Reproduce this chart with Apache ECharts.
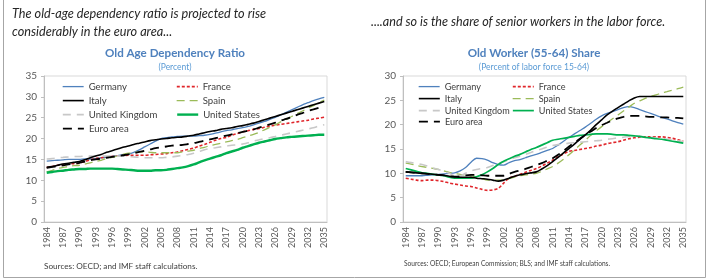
<!DOCTYPE html>
<html>
<head>
<meta charset="utf-8">
<script src="https://cdn.jsdelivr.net/npm/echarts@6/dist/echarts.min.js"></script>
<style>
html, body { margin: 0; padding: 0; background: #fff; }
#main { width: 708px; height: 279px; }
</style>
</head>
<body>
<div id="main"></div>
<script>
// categories: 1984 ... 2035
var years = [];
for (var y = 1984; y <= 2035; y++) years.push(String(y));

// left panel: old age dependency ratio (percent)
var depGermany = [14.6, 14.7, 14.8, 14.9, 15.0, 15.0, 15.0, 15.1, 15.1, 15.2,
    15.4, 15.5, 15.7, 15.9, 16.1, 16.3, 16.7, 17.3, 18.0, 18.7,
    19.4, 20.0, 20.2, 20.4, 20.5, 20.6, 20.6, 20.6, 20.7, 20.8,
    21.0, 21.3, 21.6, 21.9, 22.1, 22.4, 22.6, 22.9, 23.3, 23.7,
    24.1, 24.6, 25.1, 25.7, 26.3, 26.9, 27.5, 28.1, 28.6, 29.1,
    29.5, 29.9]
var depFrance = [13.1, 13.3, 13.6, 13.8, 13.9, 14.0, 14.1, 14.5, 14.9, 15.2,
    15.4, 15.6, 15.7, 15.8, 15.9, 16.0, 16.0, 16.0, 16.0, 16.1,
    16.2, 16.3, 16.4, 16.6, 16.8, 17.1, 17.4, 17.7, 18.2, 18.6,
    19.1, 19.6, 20.0, 20.3, 20.8, 21.2, 21.6, 21.9, 22.2, 22.4,
    22.7, 23.0, 23.2, 23.4, 23.6, 23.8, 24.0, 24.2, 24.4, 24.7,
    24.9, 25.1]
var depItaly = [13.1, 13.3, 13.6, 13.9, 14.1, 14.3, 14.5, 14.9, 15.4, 15.8,
    16.2, 16.7, 17.1, 17.5, 17.9, 18.2, 18.6, 18.9, 19.2, 19.5,
    19.7, 19.9, 20.0, 20.2, 20.3, 20.4, 20.6, 20.8, 21.1, 21.4,
    21.7, 21.9, 22.2, 22.4, 22.6, 22.9, 23.1, 23.4, 23.7, 24.1,
    24.5, 24.9, 25.3, 25.7, 26.1, 26.5, 26.9, 27.3, 27.7, 28.1,
    28.5, 28.9]
var depSpain = [12.0, 12.4, 12.8, 13.1, 13.3, 13.5, 13.6, 13.9, 14.2, 14.5,
    14.8, 15.2, 15.5, 15.8, 16.2, 16.5, 16.7, 16.8, 16.8, 16.7,
    16.6, 16.6, 16.6, 16.6, 16.6, 16.8, 17.0, 17.2, 17.6, 17.9,
    18.3, 18.6, 18.9, 19.2, 19.5, 19.8, 20.2, 20.6, 21.0, 21.5,
    22.1, 22.7, 23.3, 24.0, 24.6, 25.3, 26.0, 26.6, 27.3, 27.9,
    28.6, 29.2]
var depUK = [15.1, 15.2, 15.4, 15.5, 15.6, 15.7, 15.7, 15.8, 15.8, 15.8,
    15.8, 15.8, 15.8, 15.8, 15.8, 15.7, 15.6, 15.5, 15.4, 15.4,
    15.4, 15.4, 15.5, 15.6, 15.8, 16.0, 16.2, 16.5, 16.9, 17.3,
    17.6, 17.8, 18.0, 18.2, 18.4, 18.5, 18.7, 19.0, 19.4, 19.7,
    20.0, 20.2, 20.5, 20.8, 21.1, 21.4, 21.7, 22.0, 22.3, 22.6,
    23.0, 23.3]
var depUS = [11.8, 12.0, 12.2, 12.3, 12.5, 12.6, 12.7, 12.7, 12.8, 12.8,
    12.8, 12.8, 12.8, 12.7, 12.6, 12.5, 12.4, 12.3, 12.3, 12.3,
    12.4, 12.4, 12.5, 12.7, 12.9, 13.1, 13.4, 13.8, 14.3, 14.8,
    15.2, 15.6, 16.0, 16.5, 16.9, 17.3, 17.8, 18.2, 18.6, 19.0,
    19.3, 19.6, 19.9, 20.1, 20.3, 20.4, 20.5, 20.6, 20.7, 20.8,
    20.9, 20.9]
var depEuro = [13.0, 13.2, 13.4, 13.6, 13.8, 14.0, 14.2, 14.5, 14.8, 15.0,
    15.2, 15.4, 15.6, 15.8, 16.0, 16.2, 16.5, 16.8, 17.1, 17.4,
    17.7, 17.9, 18.1, 18.3, 18.4, 18.5, 18.7, 18.9, 19.2, 19.5,
    19.8, 20.1, 20.4, 20.7, 21.0, 21.3, 21.6, 21.9, 22.2, 22.6,
    23.0, 23.4, 23.8, 24.3, 24.7, 25.2, 25.7, 26.1, 26.6, 27.0,
    27.4, 27.8]

// right panel: old worker (55-64) share, percent of labor force 15-64
var wrkGermany = [9.5, 9.5, 9.5, 9.5, 9.6, 9.7, 9.8, 9.9, 10.0, 10.1,
    10.5, 11.2, 12.3, 13.1, 13.0, 12.7, 12.2, 11.8, 11.7, 12.2,
    12.6, 12.8, 13.2, 13.6, 13.9, 14.3, 14.7, 15.1, 15.8, 16.6,
    17.4, 18.1, 18.8, 19.5, 20.3, 21.1, 21.8, 22.3, 22.7, 23.1,
    23.5, 23.7, 23.5, 23.1, 22.7, 22.3, 21.9, 21.5, 21.2, 20.8,
    20.4, 20.1]
var wrkFrance = [9.0, 8.8, 8.6, 8.5, 8.6, 8.6, 8.5, 8.3, 8.0, 7.8,
    7.6, 7.4, 7.3, 7.0, 6.7, 6.5, 6.6, 6.9, 8.0, 9.0,
    9.4, 9.8, 10.2, 10.6, 11.0, 11.5, 12.1, 12.7, 13.4, 14.0,
    14.5, 14.7, 14.9, 15.1, 15.3, 15.6, 15.8, 16.1, 16.3, 16.5,
    16.8, 17.1, 17.3, 17.4, 17.5, 17.5, 17.5, 17.5, 17.4, 17.2,
    16.9, 16.6]
var wrkItaly = [10.3, 10.2, 10.1, 10.0, 9.9, 9.8, 9.7, 9.6, 9.4, 9.3,
    9.2, 9.2, 9.2, 9.0, 8.9, 8.8, 8.6, 8.4, 8.6, 9.0,
    9.4, 9.7, 9.9, 10.1, 10.3, 10.9, 11.6, 12.4, 13.3, 14.2,
    15.1, 16.0, 17.0, 17.9, 18.9, 20.0, 21.0, 22.0, 22.8, 23.5,
    24.2, 24.9, 25.5, 25.8, 25.8, 25.8, 25.8, 25.8, 25.8, 25.8,
    25.8, 25.8]
var wrkSpain = [12.1, 11.9, 11.6, 11.4, 11.2, 11.0, 10.8, 10.5, 10.2, 10.0,
    9.8, 9.6, 9.5, 9.2, 8.9, 8.6, 8.6, 8.6, 8.6, 8.9,
    9.2, 9.5, 9.7, 9.8, 10.0, 10.4, 10.9, 11.4, 12.1, 12.9,
    13.8, 14.8, 15.8, 16.8, 17.8, 18.7, 19.6, 20.4, 21.2, 22.0,
    22.8, 23.6, 24.4, 24.9, 25.4, 25.8, 26.1, 26.5, 26.8, 27.1,
    27.4, 27.7]
var wrkUK = [12.4, 12.2, 12.0, 11.8, 11.5, 11.1, 10.8, 10.4, 10.0, 9.5,
    9.5, 10.0, 10.5, 10.8, 11.0, 11.2, 11.6, 12.0, 12.4, 12.8,
    13.2, 13.5, 13.9, 14.3, 14.7, 15.0, 15.4, 15.7, 15.9, 16.0,
    16.2, 16.3, 16.4, 16.5, 16.6, 16.7, 16.8, 17.0, 17.1, 17.3,
    17.4, 17.6, 17.7, 17.6, 17.5, 17.4, 17.3, 17.2, 17.0, 16.9,
    16.7, 16.5]
var wrkUS = [11.0, 10.7, 10.4, 10.1, 10.0, 9.8, 9.7, 9.5, 9.2, 9.0,
    9.0, 9.0, 9.0, 9.3, 9.7, 10.3, 11.0, 11.8, 12.5, 13.0,
    13.5, 13.9, 14.4, 14.9, 15.3, 15.8, 16.3, 16.8, 17.0, 17.2,
    17.4, 17.6, 17.8, 17.9, 18.0, 18.1, 18.1, 18.1, 18.0, 17.9,
    17.9, 17.8, 17.7, 17.6, 17.4, 17.3, 17.1, 17.0, 16.8, 16.6,
    16.4, 16.2]
var wrkEuro = [10.3, 10.2, 10.1, 10.0, 9.9, 9.8, 9.7, 9.6, 9.4, 9.3,
    9.4, 9.6, 9.7, 9.7, 9.6, 9.5, 9.5, 9.5, 9.5, 9.9,
    10.3, 10.6, 10.9, 11.3, 11.7, 12.1, 12.6, 13.1, 13.8, 14.6,
    15.5, 16.3, 17.1, 17.9, 18.6, 19.3, 19.9, 20.4, 20.9, 21.3,
    21.6, 21.8, 21.8, 21.8, 21.7, 21.6, 21.6, 21.5, 21.5, 21.4,
    21.4, 21.3]

var FONT = 'Lato, "Noto Sans", sans-serif'

// line looks, Excel style
var looks = {
    'Germany': { color: '#4f81bd', width: 1.3, type: 'solid' },
    'France': { color: '#e0262b', width: 1.6, type: [3, 2] },
    'Italy': { color: '#000000', width: 1.6, type: 'solid' },
    'Spain': { color: '#9bbb59', width: 1.3, type: [8, 5] },
    'United Kingdom': { color: '#c8c8c8', width: 1.6, type: [8, 6] },
    'United States': { color: '#00b050', width: 2.2, type: 'solid' },
    'Euro area': { color: '#000000', width: 1.8, type: [9, 6] }
}
var names = ['Germany', 'France', 'Italy', 'Spain', 'United Kingdom', 'United States', 'Euro area']
var leftData = [depGermany, depFrance, depItaly, depSpain, depUK, depUS, depEuro]
var rightData = [wrkGermany, wrkFrance, wrkItaly, wrkSpain, wrkUK, wrkUS, wrkEuro]

var series = []
var legends = []
var clear = 'rgba(0,0,0,0)'

function addPanel(idx, data, col1, col2, rows, usWidth, fs) {
    names.forEach(function (n, i) {
        var lk = looks[n]
        var w = n === 'United States' ? usWidth : lk.width
        series.push({
            name: n,
            type: 'line',
            xAxisIndex: idx,
            yAxisIndex: idx,
            data: data[i],
            symbol: 'none',
            smooth: 0.3,
            silent: true,
            z: n === 'Italy' || n === 'Euro area' ? 3 : 2,
            lineStyle: { color: lk.color, width: w, type: lk.type },
            itemStyle: { color: lk.color }
        })
        legends.push({
            data: [n],
            left: i % 2 === 0 ? col1 : col2,
            top: rows[Math.floor(i / 2)] - 7,
            itemWidth: 21,
            itemHeight: 14,
            itemGap: 0,
            selectedMode: false,
            padding: 0,
            textStyle: { fontFamily: FONT, fontSize: fs, color: '#404040' },
            lineStyle: { color: lk.color, width: w, type: lk.type },
            // hide the symbol that echarts draws on a line legend icon
            itemStyle: { color: clear, borderColor: clear, borderWidth: 0 }
        })
    })
}
addPanel(0, leftData, 62, 176, [88, 102, 116, 130], 2.4, 9.6)
addPanel(1, rightData, 418, 512, [88, 100, 112, 123], 1.7, 9.1)

function xAx(gi) {
    return {
        type: 'category',
        gridIndex: gi,
        data: years,
        boundaryGap: true,
        axisLine: { lineStyle: { color: '#bfbfbf' } },
        axisTick: { interval: 0, inside: true, length: 3, lineStyle: { color: '#a6a6a6' } },
        axisLabel: { interval: 2, rotate: 90, fontSize: 9, color: '#595959', margin: 5, fontFamily: FONT },
        splitLine: { show: false }
    }
}
function yAx(gi, max) {
    return {
        type: 'value',
        gridIndex: gi,
        min: 0,
        max: max,
        interval: 5,
        axisLine: { show: true, lineStyle: { color: '#bfbfbf' } },
        axisTick: { show: true, length: 3, lineStyle: { color: '#bfbfbf' } },
        axisLabel: { fontSize: 10, color: '#595959', margin: 7, fontFamily: FONT },
        splitLine: { show: false }
    }
}

function txt(x, y, s, font, fill, align) {
    return {
        type: 'text', x: x, y: y, silent: true,
        style: { text: s, font: font, fill: fill, textAlign: align || 'left', textVerticalAlign: 'middle' }
    }
}

var chart = echarts.init(document.getElementById('main'))
chart.setOption({
    animation: false,
    backgroundColor: '#ffffff',
    grid: [
        { left: 44, top: 76, width: 283, height: 146, show: true, borderColor: '#d9d9d9', borderWidth: 1 },
        { left: 403, top: 76, width: 283, height: 146, show: true, borderColor: '#d9d9d9', borderWidth: 1 }
    ],
    xAxis: [xAx(0), xAx(1)],
    yAxis: [yAx(0, 35), yAx(1, 30)],
    legend: legends,
    series: series,
    graphic: [
        {
            type: 'polyline', silent: true,
            shape: { points: [[3.5, 0], [3.5, 277.5], [705.5, 277.5], [705.5, 0]] },
            style: { stroke: '#a6a6a6', lineWidth: 1, fill: null }
        },
        txt(12, 14, 'The old-age dependency ratio is projected to rise', 'italic 12.7px ' + FONT, '#262626'),
        txt(12, 32, 'considerably in the euro area...', 'italic 12.7px ' + FONT, '#262626'),
        txt(371, 22, '....and so is the share of senior workers in the labor force.', 'italic 12.6px ' + FONT, '#262626'),
        txt(175, 53, 'Old Age Dependency Ratio', 'bold 11.6px ' + FONT, '#4f81bd', 'center'),
        txt(175, 67, '(Percent)', '8.5px ' + FONT, '#5b9bd5', 'center'),
        txt(534, 53, 'Old Worker (55-64) Share', 'bold 11.6px ' + FONT, '#4f81bd', 'center'),
        txt(534, 67, '(Percent of labor force 15-64)', '8.5px ' + FONT, '#5b9bd5', 'center'),
        txt(44, 266, 'Sources: OECD; and IMF staff calculations.', '8.2px ' + FONT, '#404040'),
        txt(404, 264, 'Sources: OECD; European Commission; BLS; and IMF staff calculations.', '6.6px ' + FONT, '#404040')
    ]
})
</script>
</body>
</html>
